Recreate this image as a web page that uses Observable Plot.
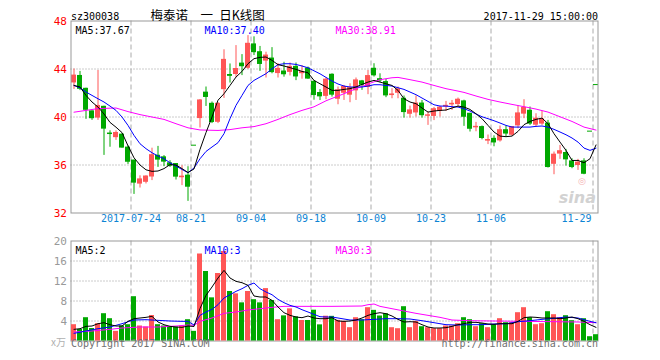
<!DOCTYPE html>
<html><head><meta charset="utf-8">
<script src="https://cdn.jsdelivr.net/npm/d3@7"></script>
<script src="https://cdn.jsdelivr.net/npm/@observablehq/plot@0.6"></script>
<style>
html,body{margin:0;padding:0;background:#fff;}
#wrap{position:relative;width:660px;height:360px;overflow:hidden;background:#fff;}
#wrap svg{position:absolute;left:0;}
</style></head><body><div id="wrap"></div>
<script>
// ---------- data ----------
const opens = [42.88,43.42,42.35,40.47,39.95,40.85,38.62,38.32,38.53,37.45,36.37,34.45,34.6,35.04,36.77,36.64,36.14,36.08,34.98,35.11,37.61,39.91,42.03,41.1,39.6,42.32,43.5,43.58,44.45,44.1,46.05,45.4,44.7,44.87,43.66,43.79,43.76,44.18,43.65,44.04,42.93,42.0,41.76,43.52,41.52,42.02,41.86,42.22,42.97,42.5,44.02,43.15,42.91,41.83,42.02,41.52,40.27,40.38,41.12,40.1,40.09,40.5,40.88,41.05,41.08,41.3,40.27,39.14,39.16,38.03,38.18,38.05,38.9,38.52,39.3,40.28,40.52,39.36,39.45,39.45,36.1,36.95,37.0,36.3,36.0,36.3,38.78,42.66];
const highs = [44.0,43.8,42.4,40.5,43.88,40.9,38.85,38.85,38.6,37.6,36.4,35.1,35.1,37.4,37.55,36.78,36.36,36.1,35.94,35.86,37.61,41.45,42.5,41.25,41.2,45.6,44.42,45.95,45.2,46.78,46.68,45.88,45.4,45.78,44.45,44.56,44.5,44.5,44.28,44.16,43.04,42.28,43.25,43.6,42.5,42.63,42.77,43.25,43.05,43.88,44.44,43.6,43.13,42.36,42.5,41.75,40.91,41.75,41.38,40.41,40.8,40.9,41.3,41.38,41.58,41.4,40.3,39.55,39.25,38.5,38.43,39.25,39.25,39.2,40.91,41.44,40.83,40.27,40.47,39.72,37.08,37.63,37.3,36.52,36.47,36.52,38.78,42.66];
const lows = [42.3,42.2,39.8,39.72,39.72,36.8,37.48,38.05,37.4,36.05,33.55,34.08,34.42,34.7,35.8,35.86,35.8,34.75,34.28,32.97,37.61,39.08,40.88,39.45,39.45,41.55,42.83,43.3,43.45,43.98,45.12,43.8,43.25,43.6,43.25,43.32,43.42,43.03,43.15,43.14,41.4,41.37,41.44,41.66,41.02,41.38,41.19,41.38,42.22,41.86,43.33,42.86,41.61,41.52,41.52,39.91,39.91,40.0,39.91,39.3,39.7,40.0,40.47,40.55,40.83,39.22,38.75,38.77,38.1,37.7,37.52,37.91,38.33,38.4,39.02,39.86,39.3,39.16,39.3,35.75,35.19,36.47,35.91,35.69,35.55,35.19,38.78,42.66];
const closes = [43.45,42.35,40.6,39.9,40.92,39.03,38.58,38.67,37.45,36.27,34.53,34.8,35.04,36.82,36.45,36.28,35.94,35.03,35.03,34.19,37.61,41.38,41.67,39.58,41.1,44.76,43.43,44.0,44.23,46.1,45.4,44.42,45.12,43.74,44.01,43.56,44.18,43.38,43.74,43.2,41.83,41.72,43.11,41.86,42.22,42.5,42.41,43.05,42.69,43.41,43.47,43.05,41.8,41.88,42.3,40.41,40.55,41.12,40.15,40.14,40.65,40.78,40.93,41.1,41.44,40.02,39.02,39.18,38.25,38.08,37.88,38.9,38.62,39.16,40.3,40.76,39.45,39.86,39.8,35.83,36.86,37.15,36.47,35.83,36.2,35.27,38.78,42.66];
const volumes = [3.26,2.3,4.66,2.5,3.46,5.46,4.46,1.93,3.0,3.26,8.86,3.0,2.8,5.1,3.26,3.0,2.8,2.8,3.0,4.26,1.93,17.4,13.9,8.63,13.5,17.9,9.9,9.43,7.63,9.9,8.26,7.63,10.48,8.1,4.26,5.03,6.43,4.83,4.1,4.1,6.16,3.23,4.96,4.93,4.13,3.93,2.66,4.66,4.26,6.66,6.13,5.0,5.46,2.66,2.46,6.86,2.66,3.93,2.86,2.66,2.46,2.46,3.0,3.0,3.46,4.66,4.26,2.86,3.46,2.66,3.26,4.46,3.66,3.66,5.66,6.66,4.66,3.26,3.46,5.86,5.26,4.66,5.06,4.06,3.26,4.46,0.86,1.26];

// price moving averages
const ma5 = [42.63,42.5,41.8,41.25,40.83,40.25,39.55,39.15,38.7,37.6,36.6,36.0,35.6,35.47,35.5,35.7,36.03,36.0,35.7,35.37,35.67,37.3,38.7,40.0,41.4,41.94,42.63,43.33,43.8,44.44,44.86,44.97,45.0,44.72,44.36,44.25,44.11,43.97,43.8,43.69,43.05,42.77,42.5,42.22,42.22,42.3,42.36,42.5,42.72,42.91,43.05,42.91,42.77,42.63,42.22,41.52,41.25,41.11,40.75,40.41,40.5,40.55,40.58,40.75,40.91,40.83,40.63,40.27,39.86,39.3,38.75,38.41,38.36,38.41,38.8,39.36,39.63,39.8,39.91,39.44,38.61,37.91,37.22,36.38,36.38,36.19,36.52,37.67];
const ma10 = [42.63,42.44,42.08,41.8,41.52,41.25,40.91,40.55,40.0,39.3,38.47,37.77,37.36,37.02,36.75,36.52,36.19,35.91,35.63,35.36,35.75,36.52,37.13,37.5,37.86,38.61,39.86,40.97,41.8,42.63,43.05,43.33,43.61,44.02,44.36,44.44,44.44,44.38,44.25,44.1,43.85,43.6,43.3,43.0,42.75,42.58,42.5,42.5,42.5,42.58,42.69,42.69,42.63,42.58,42.44,42.3,42.08,41.86,41.58,41.3,41.02,40.91,40.91,40.86,40.83,40.69,40.5,40.25,40.02,39.86,39.69,39.5,39.3,39.16,39.16,39.16,39.16,39.22,39.25,39.16,38.97,38.75,38.52,38.25,37.91,37.41,37.22,37.4];
const ma30Idx = [0,4,7,9,11,13,15,17,19,21,24,26,28,30,32,34,36,38,40,42,43,45,47,49,51,53,54,56,58,60,62,64,65,67,69,71,73,75,77,79,81,83,85,87];
const ma30 = [40.4,40.7,40.75,40.45,40.2,40.0,39.8,39.44,39.1,38.92,38.88,38.95,39.1,39.2,39.44,39.8,40.2,40.55,40.85,41.35,41.55,41.94,42.36,42.75,43.11,43.27,43.3,43.11,42.91,42.63,42.36,42.16,42.05,41.75,41.47,41.25,41.05,40.86,40.66,40.41,40.02,39.63,39.16,38.91];

// volume moving averages
const vma5 = [2.33,2.46,2.93,3.0,3.46,3.66,3.26,3.0,3.0,3.93,4.46,4.6,4.73,4.93,3.8,3.26,2.93,2.8,2.73,3.0,2.9,6.5,9.13,10.8,12.6,14.13,12.6,11.93,11.66,11.13,9.0,8.8,8.8,8.13,6.8,5.66,5.13,4.8,4.66,5.0,4.6,4.46,4.46,4.66,4.0,3.93,4.0,4.2,4.6,5.13,5.46,5.66,5.46,5.0,4.33,3.8,3.86,3.8,3.26,2.8,2.6,2.6,2.66,2.93,3.26,3.46,3.73,3.73,3.6,3.4,3.33,3.46,3.46,3.46,3.93,4.66,4.8,4.73,4.6,4.6,4.6,4.46,4.6,4.8,4.46,3.93,3.26,2.73];
const vma10Idx = [0,2,4,6,8,9,10,12,14,16,18,19,20,21,22,23,24,25,26,27,28,29,30,31,32,33,34,35,36,37,38,39,40,41,42,43,44,46,48,50,52,54,56,58,60,62,64,66,68,70,72,74,76,78,80,82,84,86,87];
const vma10 = [1.53,2.0,2.46,2.8,3.46,3.86,4.2,4.26,4.13,4.0,3.93,3.93,3.2,5.13,5.8,6.33,7.26,8.6,9.26,9.93,10.46,11.13,11.6,10.46,9.8,9.26,8.33,7.66,7.13,6.8,6.26,5.8,5.33,4.86,4.8,4.8,4.6,4.2,4.2,4.33,4.46,4.46,4.4,4.06,3.66,3.26,3.2,3.26,3.26,3.4,3.46,3.86,4.06,4.33,4.53,4.8,4.6,3.93,3.66];
const vma30Idx = [0,3,6,8,11,14,17,19,20,21,23,25,27,29,31,33,35,38,43,48,49,50,51,53,55,57,59,61,63,66,70,75,80,84,87];
const vma30 = [1.8,2.0,2.33,2.6,2.8,2.8,3.0,3.2,3.13,3.93,4.6,5.53,5.8,6.2,6.46,6.73,6.93,6.93,6.93,7.0,7.26,7.4,6.93,6.46,6.0,5.53,5.13,4.73,4.2,4.06,4.0,3.93,3.86,3.8,3.66];

// ticks and labels
const dateIdx = [10,20,30,40,50,60,70];
const dateLabels = ["2017-07-24","08-21","09-04","09-18","10-09","10-23","11-06"];
const lastDateIdx = [87];
const lastDateLabel = ["11-29"];
const priceTicks = [48,44,40,36,32];
const priceGrid = [44,40,36];
const volTicks = [20,16,12,8,4];
const volGrid = [16,12,8,4];
const codeText = ["sz300038"];
const titleText = ["梅泰诺\u3000一\u2002日K线图"];
const timeText = ["2017-11-29 15:00:00"];
const priceMaLabels = ["MA5:37.67","MA10:37.40","MA30:38.91"];
const volMaLabels = ["MA5:2","MA10:3","MA30:3"];
const unitText = ["x万"];
const copyText = ["Copyright 2017 SINA.COM"];
const urlText = ["http://finance.sina.com.cn"];

// ---------- build ----------
const UP = "#ff5656", DOWN = "#00a800";
const MA5C = "#000000", MA10C = "#0000ff", MA30C = "#ff00ff";
const mono = "'DejaVu Sans Mono', monospace";
const candles = opens.map((o, i) => ({k: i, o, h: highs[i], l: lows[i], c: closes[i], col: closes[i] > o ? UP : DOWN}));
const volBars = volumes.map((v, i) => ({k: i, v, col: candles[i].col}));
const pts = (idx, vals) => vals.map((v, i) => [idx ? idx[i] : i, v]);
const xDomain = [-0.5, 87 + 1/3];
const halfW = 5 / 12;
const common = {
  width: 660,
  marginLeft: 70.5, marginRight: 62.5,
  x: {domain: xDomain, axis: null},
  color: {type: "identity"},
  style: {fontFamily: mono, fontSize: "10px", background: "transparent", overflow: "visible"}
};
const maLabelMarks = (labels) => [
  Plot.text([labels[0]], {frameAnchor: "top-left", dx: 4.5, dy: 6, textAnchor: "start", fill: MA5C}),
  Plot.text([labels[1]], {frameAnchor: "top-left", dx: 133.5, dy: 6, textAnchor: "start", fill: MA10C}),
  Plot.text([labels[2]], {frameAnchor: "top-left", dx: 264.5, dy: 6, textAnchor: "start", fill: MA30C})
];

const price = Plot.plot({
  ...common,
  height: 232, marginTop: 20.5, marginBottom: 19.5,
  y: {domain: [32, 48], axis: null},
  marks: [
    Plot.ruleY(priceGrid, {stroke: "#999", strokeDasharray: "1,2"}),
    Plot.ruleX(dateIdx.concat(lastDateIdx), {x: d => d - 0.5, stroke: "#aaa", strokeDasharray: "5,3"}),
    Plot.text(["sina"], {frameAnchor: "bottom-right", dx: -2, dy: -10, textAnchor: "end", fontFamily: "'DejaVu Sans', sans-serif", fontSize: 16, fontStyle: "italic", fontWeight: "bold", fill: "#d2d2d2"}),
    Plot.text(["◎"], {frameAnchor: "bottom-right", dx: -16, dy: -29, textAnchor: "middle", fontFamily: "'DejaVu Sans', sans-serif", fontSize: 9, fill: "#f4b4b4"}),
    Plot.ruleX(candles, {x: "k", y1: "l", y2: "h", stroke: "col"}),
    Plot.rect(candles, {x1: d => d.k - halfW, x2: d => d.k + halfW, y1: "o", y2: "c", fill: "col", insetTop: -0.5, insetBottom: -0.5}),
    Plot.line(pts(ma30Idx, ma30), {x: d => d[0], y: d => d[1], stroke: MA30C, strokeWidth: 1}),
    Plot.line(pts(null, ma10), {x: d => d[0], y: d => d[1], stroke: MA10C, strokeWidth: 1}),
    Plot.line(pts(null, ma5), {x: d => d[0], y: d => d[1], stroke: MA5C, strokeWidth: 1}),
    Plot.frame({stroke: "#999"}),
    Plot.text(priceTicks, {y: d => d, text: d => String(d), frameAnchor: "left", dx: -4, textAnchor: "end", fill: "#ff0000", fontSize: 11}),
    Plot.text(dateLabels, {x: (d, i) => dateIdx[i] - 0.5, text: d => d, frameAnchor: "bottom", dy: 9, textAnchor: "middle", fill: "#0c84d4"}),
    Plot.text(lastDateLabel, {x: (d, i) => lastDateIdx[i] - 0.5, text: d => d, frameAnchor: "bottom", dy: 9, dx: -1.5, textAnchor: "end", fill: "#0c84d4"}),
    Plot.text(codeText, {frameAnchor: "top-left", dx: 0, dy: -8, textAnchor: "start", fill: "#000"}),
    Plot.text(titleText, {frameAnchor: "top-left", dx: 79.5, dy: -9.5, textAnchor: "start", fontFamily: "'Noto Sans CJK SC', sans-serif", fontSize: 12.5, fill: "#000"}),
    Plot.text(timeText, {frameAnchor: "top-right", dx: 0, dy: -8, textAnchor: "end", fill: "#000"}),
    ...maLabelMarks(priceMaLabels)
  ]
});
price.style.top = "0px";

const vol = Plot.plot({
  ...common,
  height: 128, marginTop: 8.5, marginBottom: 19.5,
  y: {domain: [0, 20], axis: null},
  marks: [
    Plot.ruleY(volGrid, {stroke: "#999", strokeDasharray: "1,2"}),
    Plot.ruleX(dateIdx.concat(lastDateIdx), {x: d => d - 0.5, stroke: "#aaa", strokeDasharray: "5,3"}),
    Plot.frame({stroke: "#999"}),
    Plot.rectY(volBars, {x1: d => d.k - halfW, x2: d => d.k + halfW, y: "v", fill: "col"}),
    Plot.line(pts(vma30Idx, vma30), {x: d => d[0], y: d => d[1], stroke: MA30C, strokeWidth: 1}),
    Plot.line(pts(vma10Idx, vma10), {x: d => d[0], y: d => d[1], stroke: MA10C, strokeWidth: 1}),
    Plot.line(pts(null, vma5), {x: d => d[0], y: d => d[1], stroke: MA5C, strokeWidth: 1}),
    Plot.text(volTicks, {y: d => d, text: d => String(d), frameAnchor: "left", dx: -4, textAnchor: "end", fill: "#999", fontSize: 11}),
    Plot.text(unitText, {frameAnchor: "bottom-left", dx: -5, dy: 5, textAnchor: "end", fill: "#b0b0b0", fontFamily: "'Noto Sans CJK SC', sans-serif", fontSize: 10}),
    Plot.text(copyText, {frameAnchor: "bottom-left", dx: 0, dy: 6, textAnchor: "start", fill: "#707070"}),
    Plot.text(urlText, {frameAnchor: "bottom-right", dx: 0, dy: 6, textAnchor: "end", fill: "#707070"}),
    ...maLabelMarks(volMaLabels)
  ]
});
vol.style.top = "232px";

const wrap = document.getElementById("wrap");
wrap.appendChild(price);
wrap.appendChild(vol);
</script>
</body></html>
